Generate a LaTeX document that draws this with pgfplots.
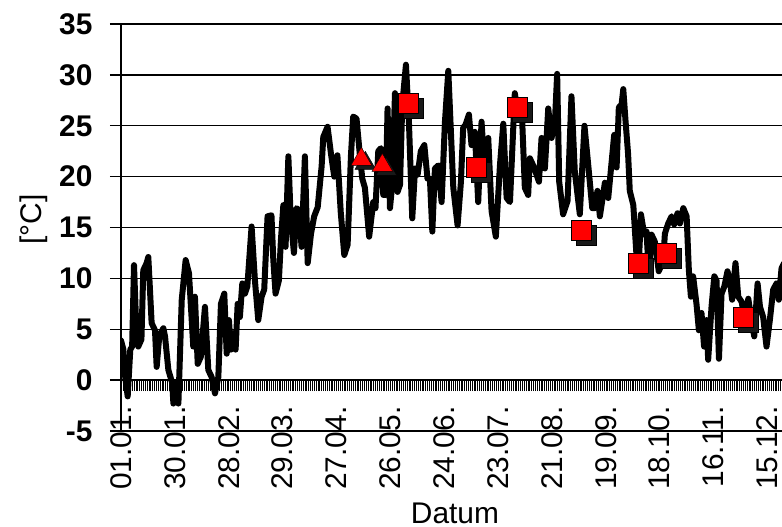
\documentclass[border=0pt]{standalone}
\usepackage{fontspec}
\setmainfont{Liberation Sans}
\usepackage{pgfplots}
\usepackage{pgfplotstable}
\pgfplotsset{compat=1.18}
\pgfplotstableread{
day temp
0 3.9
1.3 3
2 0.7
3.6 -1.6
5 3
6 3.3
7 11.3
8.4 4.3
9.3 3.3
11 4
12 10.8
13.8 11.5
14.7 12.1
16.5 5.6
18.3 4.9
19.2 1.3
20.6 4.3
22.8 5.1
23.7 4.3
25.5 1
27.6 -0.3
28.2 -2.3
30 -0.3
30.9 -2.3
32.7 7.9
34.8 11.8
36.6 10.5
38.9 3.3
39.8 8.2
41.3 1.6
43 2.3
45.2 7.2
47 1
48.8 0.3
50.6 -1.3
52.4 0.3
53.8 7.5
55.6 8.5
56.9 2.6
58.1 5.9
59.2 3
60.5 4.6
61.7 3
62.8 7.5
64 6.2
65.3 9.5
66.7 8.5
68 9.2
70.3 15.1
72.1 9.8
73.9 5.9
75.7 8.2
77.1 8.9
78.9 16.1
81 16.2
82 11.8
83.2 8.5
85 9.8
86.1 13.8
87.4 17.2
88.6 13.1
90.1 22
91.3 16.1
93.1 12.5
94.5 16.9
95.8 16.7
97.2 13.1
99 22
100.5 11.5
102.3 14.4
104 16.1
105.9 17
108 21
108.9 23.9
111.2 24.9
113 22.3
114.8 20
116.5 22.1
118.3 16.5
120.2 12.3
122 13.3
123.8 22.1
125 25.9
126.8 25.7
128.6 22.1
129.9 19.8
131.3 18.9
133.6 14.1
135.8 17.5
137 16.9
138.5 22.5
139.9 22.8
141.2 18.2
142.5 18.2
143.5 26.7
144.8 16.9
146 19.2
147.5 28.2
148.9 18.5
150.2 19.2
151.4 27
153.4 31
155 25.4
156.8 15.9
158.3 20.8
159.7 20.2
161.4 22.5
163.3 23.1
165 19.8
166.3 19.8
167.6 14.6
169 20.8
170.8 21.1
172.6 17.5
174.4 25.4
176.2 30.4
177.6 24.4
178.9 18.9
181.2 15.2
183 19.5
184.2 24.8
185.5 25.1
187.3 26.1
188.7 23.1
190.5 24.4
192.3 17.5
194.1 25.4
195.9 20.2
197.7 23.8
199.5 16.6
201.8 14.1
204 21.1
205.8 25.2
207.6 17.9
209.4 17.5
212 28.2
213.8 26.1
216 25.4
217.4 18.9
219.2 18.2
220.1 21.8
221.9 21.1
223.7 20.2
225 19.5
226.4 23.8
228.2 20.8
230 26.7
231.8 23.8
233.6 25.4
234.8 30.1
235.9 19.5
238 16.3
240.4 17.6
242.5 27.9
244.3 20.5
247 16.3
249.5 25
251.5 21.2
253.7 16.9
255 16.9
256.5 18.6
257.8 16.1
260.5 19.4
262.3 17.9
264 21.2
265.5 24.1
266.8 20.9
268 26.8
269.5 27.1
270.4 28.6
271.6 25.5
273 22.2
273.9 18.6
275.8 17.2
277.5 12.3
278.5 10.3
279.9 16.3
281.7 14.3
282.9 14.6
284.2 10.3
285.6 14.3
287.4 13.6
289.5 10.7
291.9 11.7
292.8 14.4
294.6 15.4
296.4 16.1
297.8 15.3
299.6 16.4
300.9 15.4
302.7 16.9
304.5 16.1
305.7 10.8
306.8 8.2
308 10.2
309.8 7.5
311.1 4.9
312.5 6.6
313.9 3.3
315.2 5.9
316.1 2
317.9 7.2
319.4 10.2
320.6 9.8
321.9 2.1
323.3 8.5
324.8 9.2
326.5 10.7
327.8 9.8
329 7.9
330.8 11.5
332.3 8.2
334.1 7.7
335.9 5.9
337.7 8
339.4 5.9
340.9 4.3
342.7 9.5
344 7.2
345.7 6.2
347.5 3.3
349.3 5.9
351.1 8.9
352.9 9.5
354.1 7.9
355.6 11
357 11.5
}\tempdata
\pgfplotstableread{
day temp
154.5 27.2
191.3 20.9
213.1 26.8
247.8 14.7
278.5 11.5
293.3 12.5
334.8 6.2
}\sqdata
\pgfplotstableread{
day temp
129.4 21.7
140.7 21.1
}\tridata
\begin{document}
\begin{tikzpicture}
\pgfplotsset{common/.style={scale only axis, width=678bp, height=407bp,
  xmin=0, xmax=365, ymin=-5, ymax=35, at={(121bp,96bp)}, anchor=south west}}
% zero axis with daily ticks
\begin{axis}[common,
  axis x line=middle, axis y line=none,
  axis line style={-, line width=1.3bp, black},
  xtick={0,29,...,348},
  xticklabels={01.01.,30.01.,28.02.,29.03.,27.04.,26.05.,24.06.,23.07.,21.08.,19.09.,18.10.,16.11.,15.12.},
  minor xtick={0,1,...,365},
  tick align=outside,
  major tick length=11bp, minor tick length=11bp,
  every tick/.style={black, line width=0.6bp},
  xticklabel shift=12bp,
  xticklabel style={rotate=90, anchor=east, inner ysep=0pt, font=\fontsize{30}{36}\selectfont},
  hide obscured x ticks=false,
  ytick=\empty,
]
\addplot[draw=none] coordinates {(0,0)};
\end{axis}
% main axis
\begin{axis}[common,
  axis x line=bottom, axis y line=left,
  axis line style={-, line width=2.5bp, black},
  xtick=\empty,
  ytick={-5,0,...,30},
  yticklabels={-5,0,5,10,15,20,25,30},
  extra y ticks={35}, extra y tick labels={35},
  extra y tick style={grid style={black, line width=2.5bp}},
  ymajorgrids, grid style={black, line width=1.3bp},
  tick align=outside, major tick length=11bp,
  every tick/.style={black, line width=1.3bp},
  yticklabel shift=14bp,
  yticklabel style={font=\fontsize{30}{36}\bfseries},
  xlabel={Datum}, ylabel={[°C]},
  label style={font=\fontsize{30}{36}\selectfont},
  xlabel style={at={(axis description cs:0.4926,-0.2015)}, anchor=center},
  ylabel style={at={(axis description cs:-0.128,0.52)}, anchor=center},
]
\addplot[black, line width=6bp, line join=round, line cap=round, no marks] table[x=day,y=temp] {\tempdata};
\addplot[only marks, mark=square*, mark size=10bp, draw=none, fill=black!90, mark options={xshift=5bp, yshift=-5bp, draw=none, fill=black!90}] table[x=day,y=temp] {\sqdata};
\addplot[only marks, mark=square*, mark size=10bp, mark options={draw=none, fill=red}] table[x=day,y=temp] {\sqdata};
\addplot[only marks, mark=triangle*, mark size=12bp, mark options={xshift=4bp, yshift=-4bp, draw=none, fill=black!90}] table[x=day,y=temp] {\tridata};
\addplot[only marks, mark=triangle*, mark size=12bp, mark options={draw=none, fill=red}] table[x=day,y=temp] {\tridata};
\end{axis}
\pgfresetboundingbox
\path[use as bounding box] (0,0) rectangle (782bp,527bp);
\end{tikzpicture}
\end{document}
